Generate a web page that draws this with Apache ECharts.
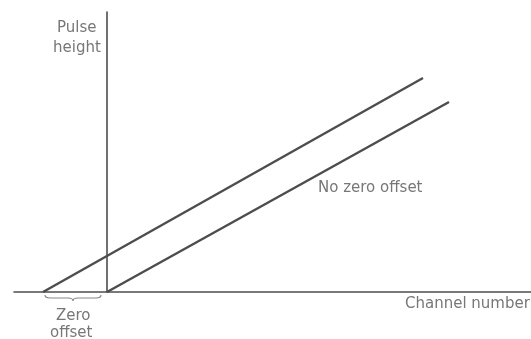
<!DOCTYPE html>
<html>
<head>
<meta charset="utf-8">
<script src="https://cdn.jsdelivr.net/npm/echarts@6/dist/echarts.min.js"></script>
<style>
  html, body { margin: 0; padding: 0; background: #fff; }
  #chart { width: 531px; height: 339px; }
</style>
</head>
<body>
<div id="chart"></div>
<script>
// channel number (x) vs pulse height (y), arbitrary units
const offsetLine = [[-64, 0], [316, 214]];
const noOffsetLine = [[0, 0], [342, 190]];
const zeroOffsetSpan = [-62, -6];

const chart = echarts.init(document.getElementById("chart"));
const lineColor = "#4d4d4d";
const textColor = "#777777";
const fontFamily = "DejaVu Sans";

chart.setOption({
  animation: false,
  grid: { left: 14, right: 0, top: 12, bottom: 47 },
  xAxis: {
    type: "value",
    min: -93,
    max: 424,
    axisLine: { show: true, onZero: true, lineStyle: { color: lineColor, width: 1.6 } },
    axisTick: { show: false },
    axisLabel: { show: false },
    splitLine: { show: false }
  },
  yAxis: {
    type: "value",
    min: 0,
    max: 280,
    axisLine: { show: true, onZero: true, lineStyle: { color: lineColor, width: 1.6 } },
    axisTick: { show: false },
    axisLabel: { show: false },
    splitLine: { show: false }
  },
  series: [
    {
      type: "line",
      data: offsetLine,
      symbol: "none",
      lineStyle: { color: lineColor, width: 2.4 }
    },
    {
      type: "line",
      data: noOffsetLine,
      symbol: "none",
      lineStyle: { color: lineColor, width: 2.4 }
    },
    {
      // curly brace under the zero offset
      type: "custom",
      data: [zeroOffsetSpan],
      renderItem: function (params, api) {
        const a = api.coord([api.value(0), 0]);
        const b = api.coord([api.value(1), 0]);
        const m = (a[0] + b[0]) / 2;
        const y0 = a[1] + 3;
        const y1 = a[1] + 6;
        const y2 = a[1] + 9;
        const path =
          "M" + a[0] + " " + y0 +
          " Q" + a[0] + " " + y1 + " " + (a[0] + 5) + " " + y1 +
          " L" + (m - 5) + " " + y1 +
          " Q" + m + " " + y1 + " " + m + " " + y2 +
          " Q" + m + " " + y1 + " " + (m + 5) + " " + y1 +
          " L" + (b[0] - 5) + " " + y1 +
          " Q" + b[0] + " " + y1 + " " + b[0] + " " + y0;
        return {
          type: "path",
          shape: { pathData: path },
          style: { fill: "none", stroke: "#888", lineWidth: 1.2 }
        };
      }
    }
  ],
  graphic: [
    {
      type: "text", left: 57, top: 21,
      style: { text: "Pulse", fill: textColor, font: "15px " + fontFamily }
    },
    {
      type: "text", left: 53, top: 41,
      style: { text: "height", fill: textColor, font: "15px " + fontFamily }
    },
    {
      type: "text", left: 318, top: 181,
      style: { text: "No zero offset", fill: textColor, font: "15px " + fontFamily }
    },
    {
      type: "text", left: 405, top: 297,
      style: { text: "Channel number", fill: textColor, font: "15px " + fontFamily }
    },
    {
      type: "text", left: 56, top: 309,
      style: { text: "Zero", fill: textColor, font: "15px " + fontFamily }
    },
    {
      type: "text", left: 50, top: 326,
      style: { text: "offset", fill: textColor, font: "15px " + fontFamily }
    }
  ]
});
</script>
</body>
</html>
